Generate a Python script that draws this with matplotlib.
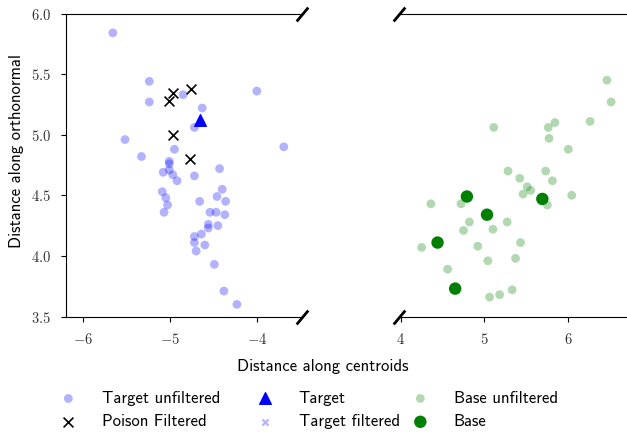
import matplotlib
matplotlib.use("Agg")
import matplotlib.pyplot as plt
from matplotlib.ticker import FuncFormatter

plt.rcParams["font.family"] = ["cmss10", "DejaVu Sans"]
plt.rcParams["mathtext.fontset"] = "cm"
plt.rcParams["axes.unicode_minus"] = False
plt.rcParams["font.size"] = 12

# target points that were not filtered
target_unf_x = [-5.66, -5.24, -5.24, -4.85, -4.00, -4.63, -4.72, -5.52, -4.95, -5.33,
                -3.69, -5.01, -5.01, -4.43, -5.08, -5.01, -4.97, -4.92, -4.72, -5.09,
                -5.05, -5.03, -5.07, -4.66, -4.46, -4.40, -4.36, -4.54, -4.47, -4.37,
                -4.56, -4.56, -4.45, -4.64, -4.72, -4.72, -4.60, -4.70, -4.49, -4.38,
                -4.23]
target_unf_y = [5.84, 5.44, 5.27, 5.33, 5.36, 5.22, 5.06, 4.96, 4.88, 4.82,
                4.90, 4.78, 4.76, 4.72, 4.69, 4.71, 4.67, 4.62, 4.66, 4.53,
                4.48, 4.42, 4.36, 4.45, 4.49, 4.55, 4.45, 4.36, 4.36, 4.34,
                4.26, 4.23, 4.25, 4.18, 4.16, 4.11, 4.09, 4.04, 3.93, 3.71,
                3.60]

poison_x = [-4.97, -5.01, -4.76, -4.97, -4.77]
poison_y = [5.34, 5.28, 5.38, 5.00, 4.80]

target_x = [-4.66]
target_y = [5.12]

target_filt_x = []
target_filt_y = []

base_unf_x = [6.46, 6.51, 5.11, 5.76, 5.84, 6.26, 5.77, 6.00, 5.28, 5.73,
              5.42, 5.81, 5.51, 5.55, 5.46, 6.04, 5.75, 4.36, 4.72, 4.82,
              4.75, 5.10, 5.27, 4.25, 4.92, 5.43, 5.04, 5.37, 4.56, 5.06,
              5.18, 5.33]
base_unf_y = [5.45, 5.27, 5.06, 5.06, 5.10, 5.11, 4.97, 4.88, 4.70, 4.70,
              4.64, 4.62, 4.57, 4.54, 4.51, 4.50, 4.42, 4.43, 4.43, 4.28,
              4.21, 4.22, 4.28, 4.07, 4.08, 4.11, 3.96, 3.98, 3.89, 3.66,
              3.68, 3.72]

base_x = [4.79, 5.69, 5.03, 4.44, 4.65]
base_y = [4.49, 4.47, 4.34, 4.11, 3.73]

W, H = 627, 432
fig = plt.figure(figsize=(W / 100, H / 100), dpi=100)
ax1 = fig.add_axes([66 / W, 1 - 316.5 / H, (302 - 66) / W, 303 / H])
ax2 = fig.add_axes([399 / W, 1 - 316.5 / H, (627 - 399) / W, 303 / H], sharey=ax1)

for ax in (ax1, ax2):
    ax.scatter(target_unf_x, target_unf_y, s=40, color="blue", alpha=0.3,
               edgecolors="none", label="Target unfiltered")
    ax.scatter(poison_x, poison_y, s=50, marker="x", color="black", linewidths=1.2,
               label="Poison Filtered")
    ax.scatter(target_x, target_y, s=70, marker="^", color="blue", label="Target")
    ax.scatter(target_filt_x, target_filt_y, s=20, marker="x", color="blue", alpha=0.3,
               label="Target filtered")
    ax.scatter(base_unf_x, base_unf_y, s=40, color="green", alpha=0.3,
               edgecolors="none", label="Base unfiltered")
    ax.scatter(base_x, base_y, s=80, color="green", edgecolors="none", label="Base")

ax1.set_xlim(-6.2, -3.48)
ax2.set_xlim(3.98, 6.70)
ax1.set_ylim(3.5, 6.0)
ax1.set_xticks([-6, -5, -4])
ax2.set_xticks([4, 5, 6])
ax1.set_yticks([3.5, 4.0, 4.5, 5.0, 5.5, 6.0])

ax1.xaxis.set_major_formatter(FuncFormatter(lambda v, _: f"${v:g}$"))
ax2.xaxis.set_major_formatter(FuncFormatter(lambda v, _: f"${v:g}$"))
ax1.yaxis.set_major_formatter(FuncFormatter(lambda v, _: f"${v:.1f}$"))

ax1.spines["right"].set_visible(False)
ax2.spines["left"].set_visible(False)
ax2.spines["right"].set_visible(False)
ax2.tick_params(axis="y", left=False, labelleft=False)
for ax in (ax1, ax2):
    ax.tick_params(labelsize=10.5, pad=7.5, labelcolor="#333333")

# break marks
brk = dict(marker=[(-1, -1.2), (1, 1.2)], markersize=10, linestyle="none",
           color="k", mec="k", mew=2, clip_on=False)
ax1.plot([1, 1], [0, 1], transform=ax1.transAxes, **brk)
ax2.plot([0, 0], [0, 1], transform=ax2.transAxes, **brk)

fig.text(17 / W, 1 - 151 / H, "Distance along orthonormal", rotation=90,
         ha="center", va="center")
fig.text(323 / W, 1 - 366 / H, "Distance along centroids", ha="center", va="center")

# one legend per column, placed by hand
handles, labels = ax1.get_legend_handles_labels()
lkw = dict(loc="center left", frameon=False, handlelength=1.0, handletextpad=1.5,
           labelspacing=0.5, borderpad=0, borderaxespad=0, fontsize=12)
for i, x0 in enumerate([60, 257, 412]):
    fig.legend(handles[2 * i:2 * i + 2], labels[2 * i:2 * i + 2],
               bbox_to_anchor=(x0 / W, 1 - 410 / H), **lkw)

fig.savefig("out.png", dpi=100)
